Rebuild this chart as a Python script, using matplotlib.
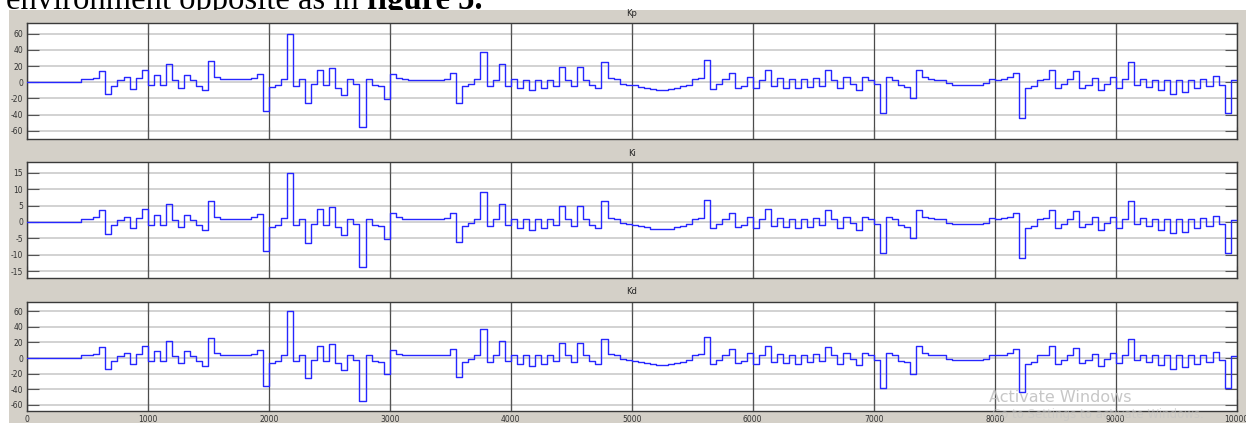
import matplotlib
matplotlib.use("Agg")
import matplotlib.pyplot as plt
from matplotlib.patches import Rectangle

# ---------------- data ----------------
times = [
    0, 450, 500, 550, 600, 650, 700, 750, 800, 850,
    900, 950, 1000, 1050, 1100, 1150, 1200, 1250, 1300, 1350,
    1400, 1450, 1500, 1550, 1600, 1650, 1850, 1900, 1950, 2000,
    2050, 2100, 2150, 2200, 2250, 2300, 2350, 2400, 2450, 2500,
    2550, 2600, 2650, 2700, 2750, 2800, 2850, 2900, 2950, 3000,
    3050, 3100, 3150, 3450, 3500, 3550, 3600, 3650, 3700, 3750,
    3800, 3850, 3900, 3950, 4000, 4050, 4100, 4150, 4200, 4250,
    4300, 4350, 4400, 4450, 4500, 4550, 4600, 4650, 4700, 4750,
    4800, 4850, 4900, 4950, 5000, 5050, 5100, 5150, 5200, 5250,
    5300, 5350, 5400, 5450, 5500, 5550, 5600, 5650, 5700, 5750,
    5800, 5850, 5900, 5950, 6000, 6050, 6100, 6150, 6200, 6250,
    6300, 6350, 6400, 6450, 6500, 6550, 6600, 6650, 6700, 6750,
    6800, 6850, 6900, 6950, 7000, 7050, 7100, 7150, 7200, 7250,
    7300, 7350, 7400, 7450, 7500, 7600, 7650, 7900, 7950, 8000,
    8050, 8100, 8150, 8200, 8250, 8300, 8350, 8400, 8450, 8500,
    8550, 8600, 8650, 8700, 8750, 8800, 8850, 8900, 8950, 9000,
    9050, 9100, 9150, 9200, 9250, 9300, 9350, 9400, 9450, 9500,
    9550, 9600, 9650, 9700, 9750, 9800, 9850, 9900, 9950, 10000,
]

kp_values = [
    0, 3.5, 4, 5.7, 14.3, -14.7, -4, 3, 6.5, -7.8,
    5, 15.5, -3.3, 8.6, -3.3, 22, 3, -6.5, 9, 3,
    -4, -9.8, 26, 6, 4, 3.7, 5.5, 10, -36, -6,
    -3.7, 4.5, 60, -4, 3.7, -25.7, -2.5, 15.5, -3.3, 18,
    -6.5, -16, 4, -2.5, -55, 4, -3.3, -5, -21, 10.6,
    5.7, 4, 3.3, 4.5, 11, -25, -4.5, -1.6, 4, 37,
    -4.5, 3.3, 22, -4, 3.7, -7.3, 3.3, -9.8, 3.3, -7.3,
    3.3, -4, 19, 3.3, -4.5, 19, 3.3, -3.7, -7.3, 25,
    5, 3.7, -1.6, -2.9, -3.7, -5.3, -6.5, -8.2, -9, -9,
    -8.2, -6.5, -4.5, -3, 4, 5.3, 27, -7.8, -2.5, 3.7,
    11, -6.5, -4, 6, -7.3, 3.3, 15.5, -4.5, 5, -6.5,
    4, -7.3, 4, -5.7, 5, -4, 14.7, 3.3, -7.3, 6,
    -1.6, -9.4, 6.5, 3.3, -2, -38, 6, 3.3, -3.7, -5.7,
    -20, 15, 6, 4.5, 3.3, -1.2, -2.9, -1.2, 4.5, 3.3,
    4.5, 6, 11.4, -44, -7.3, -4.5, 3.3, 4.5, 15, -7.3,
    -2.5, 3.7, 13.5, -6.5, -2.9, 5.7, -9.8, -1.6, 6, -7,
    3.7, 25, -2.9, 4.5, -5.3, 3.3, -9.4, 3.3, -14, 3.3,
    -12, 3.3, -7.3, 4.5, -4.5, 7.3, -2.9, -38, 3, 3,
]

ki_values = [
    0, 0.88, 1, 1.43, 3.58, -3.68, -1, 0.75, 1.63, -1.95,
    1.25, 3.88, -0.83, 2.15, -0.83, 5.5, 0.75, -1.63, 2.25, 0.75,
    -1, -2.45, 6.5, 1.5, 1, 0.93, 1.38, 2.5, -9, -1.5,
    -0.93, 1.13, 15, -1, 0.93, -6.43, -0.63, 3.88, -0.83, 4.5,
    -1.63, -4, 1, -0.63, -13.75, 1, -0.83, -1.25, -5.25, 2.65,
    1.43, 1, 0.83, 1.13, 2.75, -6.25, -1.13, -0.4, 1, 9.25,
    -1.13, 0.83, 5.5, -1, 0.93, -1.83, 0.83, -2.45, 0.83, -1.83,
    0.83, -1, 4.75, 0.83, -1.13, 4.75, 0.83, -0.93, -1.83, 6.25,
    1.25, 0.93, -0.4, -0.73, -0.93, -1.33, -1.63, -2.05, -2.25, -2.25,
    -2.05, -1.63, -1.13, -0.75, 1, 1.33, 6.75, -1.95, -0.63, 0.93,
    2.75, -1.63, -1, 1.5, -1.83, 0.83, 3.88, -1.13, 1.25, -1.63,
    1, -1.83, 1, -1.43, 1.25, -1, 3.68, 0.83, -1.83, 1.5,
    -0.4, -2.35, 1.63, 0.83, -0.5, -9.5, 1.5, 0.83, -0.93, -1.43,
    -5, 3.75, 1.5, 1.13, 0.83, -0.3, -0.73, -0.3, 1.13, 0.83,
    1.13, 1.5, 2.85, -11, -1.83, -1.13, 0.83, 1.13, 3.75, -1.83,
    -0.63, 0.93, 3.38, -1.63, -0.73, 1.43, -2.45, -0.4, 1.5, -1.75,
    0.93, 6.25, -0.73, 1.13, -1.33, 0.83, -2.35, 0.83, -3.5, 0.83,
    -3, 0.83, -1.83, 1.13, -1.13, 1.83, -0.73, -9.5, 0.75, 0.75,
]

kd_values = [
    0, 3.5, 4, 5.7, 14.3, -14.7, -4, 3, 6.5, -7.8,
    5, 15.5, -3.3, 8.6, -3.3, 22, 3, -6.5, 9, 3,
    -4, -9.8, 26, 6, 4, 3.7, 5.5, 10, -36, -6,
    -3.7, 4.5, 60, -4, 3.7, -25.7, -2.5, 15.5, -3.3, 18,
    -6.5, -16, 4, -2.5, -55, 4, -3.3, -5, -21, 10.6,
    5.7, 4, 3.3, 4.5, 11, -25, -4.5, -1.6, 4, 37,
    -4.5, 3.3, 22, -4, 3.7, -7.3, 3.3, -9.8, 3.3, -7.3,
    3.3, -4, 19, 3.3, -4.5, 19, 3.3, -3.7, -7.3, 25,
    5, 3.7, -1.6, -2.9, -3.7, -5.3, -6.5, -8.2, -9, -9,
    -8.2, -6.5, -4.5, -3, 4, 5.3, 27, -7.8, -2.5, 3.7,
    11, -6.5, -4, 6, -7.3, 3.3, 15.5, -4.5, 5, -6.5,
    4, -7.3, 4, -5.7, 5, -4, 14.7, 3.3, -7.3, 6,
    -1.6, -9.4, 6.5, 3.3, -2, -38, 6, 3.3, -3.7, -5.7,
    -20, 15, 6, 4.5, 3.3, -1.2, -2.9, -1.2, 4.5, 3.3,
    4.5, 6, 11.4, -44, -7.3, -4.5, 3.3, 4.5, 15, -7.3,
    -2.5, 3.7, 13.5, -6.5, -2.9, 5.7, -9.8, -1.6, 6, -7,
    3.7, 25, -2.9, 4.5, -5.3, 3.3, -9.4, 3.3, -14, 3.3,
    -12, 3.3, -7.3, 4.5, -4.5, 7.3, -2.9, -38, 3, 3,
]

panel_titles = ["Kp", "Ki", "Kd"]
x_ticks = [0, 1000, 2000, 3000, 4000, 5000, 6000, 7000, 8000, 9000, 10000]
x_tick_labels = ["0", "1000", "2000", "3000", "4000", "5000", "6000", "7000", "8000", "9000", "10000"]
kp_ticks = [-60, -40, -20, 0, 20, 40, 60]
ki_ticks = [-15, -10, -5, 0, 5, 10, 15]
kd_ticks = [-60, -40, -20, 0, 20, 40, 60]

header_plain = "environment opposite as in "
header_bold = "figure 5."
watermark_1 = "Activate Windows"
watermark_2 = "Go to Settings to activate Windows."

# ---------------- figure ----------------
W, H = 1246, 423
fig = plt.figure(figsize=(W / 100, H / 100), dpi=100)
fig.patch.set_facecolor("white")

# gray scope background
fig.patches.append(Rectangle((9 / W, 0), 1, (H - 10) / H, transform=fig.transFigure,
                             facecolor="#d4d0c8", edgecolor="none", zorder=0.5))

# header text (cut at the top as in the screenshot)
base_y = 1 - 8.5 / H
t1 = fig.text(6 / W, base_y, header_plain, fontsize=23.5, family="Liberation Serif",
              va="baseline", ha="left", color="black", zorder=0.4)
fig.canvas.draw()
bb = t1.get_window_extent()
fig.text(bb.x1 / W, base_y, header_bold, fontsize=23.5, family="Liberation Serif",
         fontweight="bold", va="baseline", ha="left", color="black", zorder=0.4)

left = 26.7 / W
width = 1210 / W
panels = [
    # (top px, bottom px, values, ticks, ylim, title y px)
    (22.7, 139.0, kp_values, kp_ticks, (-70, 73.5), 14),
    (162.0, 278.0, ki_values, ki_ticks, (-17.1, 18.3), 153),
    (302.0, 411.3, kd_values, kd_ticks, (-68.5, 72), 292),
]

for i, (top, bot, vals, yt, yl, ty) in enumerate(panels):
    ax = fig.add_axes([left, (H - bot) / H, width, (bot - top) / H])
    ax.set_zorder(1)
    ax.set_facecolor("white")
    ax.step(times, vals, where="post", color="#2626ff", lw=1.0, zorder=3)
    ax.set_xlim(0, 10000)
    ax.set_ylim(*yl)
    ax.set_xticks(x_ticks)
    ax.set_yticks(yt)
    ax.set_yticklabels([str(v) for v in yt])
    if i == 2:
        ax.set_xticklabels(x_tick_labels)
    else:
        ax.set_xticklabels([])
    # grid: light horizontal, dark vertical
    for y in yt:
        ax.axhline(y, color="#d2d2d2", lw=1.4, zorder=1)
    for x in x_ticks:
        ax.axvline(x, color="#4a4a4a", lw=0.9, zorder=1)
    ax.tick_params(axis="both", direction="in", length=8.5, width=0.8, color="#555555",
                   labelsize=5.5, labelcolor="#333333", pad=2.5,
                   left=True, right=True, top=True, bottom=True)
    for s in ax.spines.values():
        s.set_color("#3a3a3a")
        s.set_linewidth(1.0)
    fig.text(632 / W, 1 - ty / H, panel_titles[i], fontsize=6, color="#222222",
             ha="center", va="center")

# Windows watermark
fig.text(989 / W, 1 - 402 / H, watermark_1, fontsize=11.5, color="#bdbdbd",
         ha="left", va="baseline", alpha=0.85, zorder=5)
fig.text(992 / W, 1 - 418 / H, watermark_2, fontsize=8.5, color="#c4c4c4",
         ha="left", va="baseline", alpha=0.6, zorder=5)

fig.savefig("out.png", dpi=100, facecolor=fig.get_facecolor())
